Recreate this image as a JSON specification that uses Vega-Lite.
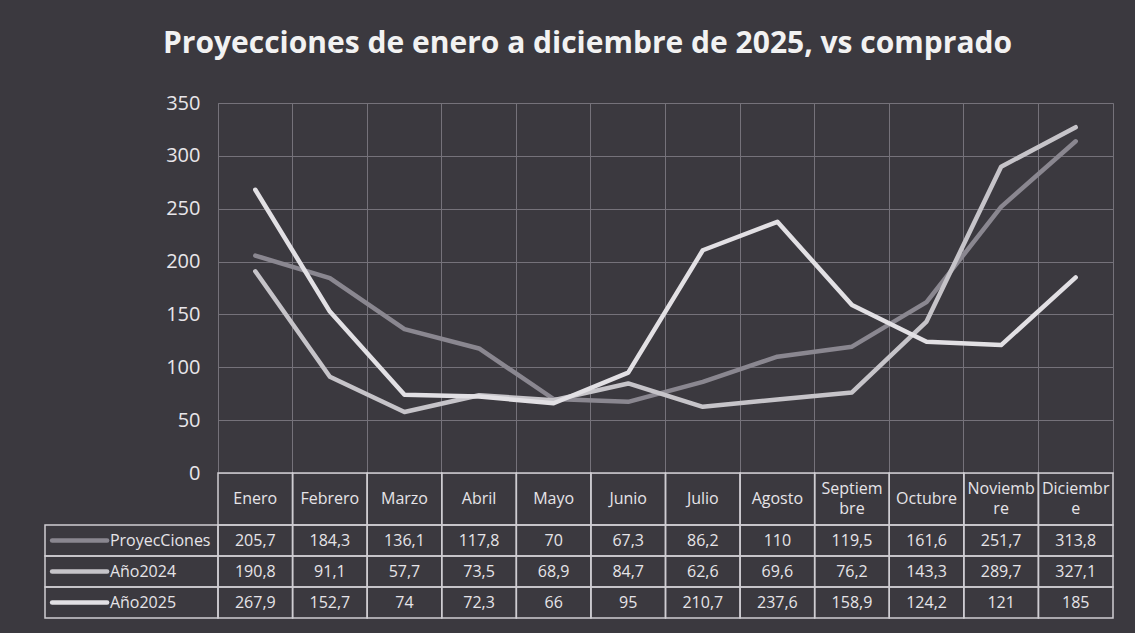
{
  "$schema": "https://vega.github.io/schema/vega-lite/v6.json",
  "width": 895,
  "height": 370,
  "autosize": {"type": "none"},
  "padding": {"left": 218, "top": 103, "right": 22, "bottom": 160},
  "background": "#3b393f",
  "title": {
    "text": "Proyecciones de enero a diciembre de 2025, vs comprado",
    "anchor": "middle",
    "dx": -78,
    "offset": 34,
    "fontSize": 30,
    "font": "Open Sans",
    "fontWeight": "bold",
    "color": "#f2f2f2"
  },
  "config": {
    "font": "Open Sans",
    "view": {"stroke": "#75727a", "strokeWidth": 1},
    "locale": {
      "number": {"decimal": ",", "thousands": ".", "grouping": [3], "currency": ["", " €"]}
    }
  },
  "data": {
    "values": [
      {"mes": "Enero", "serie": "ProyecCiones", "valor": 205.7},
      {"mes": "Febrero", "serie": "ProyecCiones", "valor": 184.3},
      {"mes": "Marzo", "serie": "ProyecCiones", "valor": 136.1},
      {"mes": "Abril", "serie": "ProyecCiones", "valor": 117.8},
      {"mes": "Mayo", "serie": "ProyecCiones", "valor": 70},
      {"mes": "Junio", "serie": "ProyecCiones", "valor": 67.3},
      {"mes": "Julio", "serie": "ProyecCiones", "valor": 86.2},
      {"mes": "Agosto", "serie": "ProyecCiones", "valor": 110},
      {"mes": "Septiembre", "serie": "ProyecCiones", "valor": 119.5},
      {"mes": "Octubre", "serie": "ProyecCiones", "valor": 161.6},
      {"mes": "Noviembre", "serie": "ProyecCiones", "valor": 251.7},
      {"mes": "Diciembre", "serie": "ProyecCiones", "valor": 313.8},
      {"mes": "Enero", "serie": "Año2024", "valor": 190.8},
      {"mes": "Febrero", "serie": "Año2024", "valor": 91.1},
      {"mes": "Marzo", "serie": "Año2024", "valor": 57.7},
      {"mes": "Abril", "serie": "Año2024", "valor": 73.5},
      {"mes": "Mayo", "serie": "Año2024", "valor": 68.9},
      {"mes": "Junio", "serie": "Año2024", "valor": 84.7},
      {"mes": "Julio", "serie": "Año2024", "valor": 62.6},
      {"mes": "Agosto", "serie": "Año2024", "valor": 69.6},
      {"mes": "Septiembre", "serie": "Año2024", "valor": 76.2},
      {"mes": "Octubre", "serie": "Año2024", "valor": 143.3},
      {"mes": "Noviembre", "serie": "Año2024", "valor": 289.7},
      {"mes": "Diciembre", "serie": "Año2024", "valor": 327.1},
      {"mes": "Enero", "serie": "Año2025", "valor": 267.9},
      {"mes": "Febrero", "serie": "Año2025", "valor": 152.7},
      {"mes": "Marzo", "serie": "Año2025", "valor": 74},
      {"mes": "Abril", "serie": "Año2025", "valor": 72.3},
      {"mes": "Mayo", "serie": "Año2025", "valor": 66},
      {"mes": "Junio", "serie": "Año2025", "valor": 95},
      {"mes": "Julio", "serie": "Año2025", "valor": 210.7},
      {"mes": "Agosto", "serie": "Año2025", "valor": 237.6},
      {"mes": "Septiembre", "serie": "Año2025", "valor": 158.9},
      {"mes": "Octubre", "serie": "Año2025", "valor": 124.2},
      {"mes": "Noviembre", "serie": "Año2025", "valor": 121},
      {"mes": "Diciembre", "serie": "Año2025", "valor": 185}
    ]
  },
  "resolve": {
    "scale": {"x": "independent", "y": "independent"},
    "axis": {"x": "independent", "y": "independent"}
  },
  "layer": [
    {
      "mark": {"type": "line", "strokeWidth": 4.5, "strokeCap": "round", "strokeJoin": "round"},
      "encoding": {
        "x": {
          "field": "mes", "type": "ordinal",
          "sort": ["Enero","Febrero","Marzo","Abril","Mayo","Junio","Julio","Agosto","Septiembre","Octubre","Noviembre","Diciembre"],
          "bandPosition": 0.5,
          "scale": {"type": "band", "paddingInner": 0, "paddingOuter": 0},
          "axis": {"bandPosition": 0, "grid": true, "gridColor": "#75727a", "gridWidth": 1, "labels": false, "ticks": false, "domain": false, "title": null}
        },
        "y": {
          "field": "valor", "type": "quantitative",
          "scale": {"domain": [0, 350]},
          "axis": {"values": [0,50,100,150,200,250,300,350], "grid": true, "gridColor": "#75727a", "gridWidth": 1, "ticks": false, "domain": false, "title": null, "labelFontSize": 20, "labelColor": "#e8e6ea", "labelPadding": 18, "labelFont": "Open Sans"}
        },
        "color": {
          "field": "serie", "type": "nominal",
          "scale": {"domain": ["ProyecCiones", "Año2024", "Año2025"], "range": ["#8a8790", "#c6c4c9", "#e2e0e4"]},
          "legend": null
        }
      }
    },
    {
      "transform": [{"filter": "datum.serie === 'ProyecCiones'"}],
      "mark": {"type": "rect", "fillOpacity": 0, "stroke": "#cfcdd2", "strokeWidth": 1.5},
      "encoding": {
        "x": {
          "field": "mes", "type": "ordinal",
          "sort": ["Enero","Febrero","Marzo","Abril","Mayo","Junio","Julio","Agosto","Septiembre","Octubre","Noviembre","Diciembre"],
          "scale": {"type": "band", "paddingInner": 0, "paddingOuter": 0},
          "axis": null
        },
        "y": {"datum": "encabezado", "type": "nominal", "scale": {"type": "band", "domain": ["encabezado"], "range": [370, 422], "paddingInner": 0, "paddingOuter": 0}, "axis": null}
      }
    },
    {
      "transform": [
        {"filter": "datum.serie === 'ProyecCiones' && datum.mes !== 'Septiembre' && datum.mes !== 'Noviembre' && datum.mes !== 'Diciembre'"}
      ],
      "mark": {"type": "text", "fontSize": 16, "color": "#e6e4e8", "baseline": "middle", "align": "center"},
      "encoding": {
        "x": {
          "field": "mes", "type": "ordinal",
          "sort": ["Enero","Febrero","Marzo","Abril","Mayo","Junio","Julio","Agosto","Septiembre","Octubre","Noviembre","Diciembre"],
          "bandPosition": 0.5,
          "scale": {"type": "band", "domain": ["Enero","Febrero","Marzo","Abril","Mayo","Junio","Julio","Agosto","Septiembre","Octubre","Noviembre","Diciembre"], "paddingInner": 0, "paddingOuter": 0},
          "axis": null
        },
        "y": {"datum": "encabezado", "type": "nominal", "bandPosition": 0.5, "scale": {"type": "band", "domain": ["encabezado"], "range": [370, 422], "paddingInner": 0, "paddingOuter": 0}, "axis": null},
        "text": {"field": "mes", "type": "nominal"}
      }
    },
    {
      "transform": [
        {"filter": "datum.serie === 'ProyecCiones' && (datum.mes === 'Septiembre' || datum.mes === 'Noviembre' || datum.mes === 'Diciembre')"},
        {"calculate": "datum.mes === 'Septiembre' ? 'Septiem|bre' : datum.mes === 'Noviembre' ? 'Noviemb|re' : 'Diciembr|e'", "as": "etiqueta"}
      ],
      "mark": {"type": "text", "lineBreak": "|", "lineHeight": 20, "fontSize": 16, "color": "#e6e4e8", "baseline": "middle", "align": "center", "dy": -10},
      "encoding": {
        "x": {
          "field": "mes", "type": "ordinal",
          "sort": ["Enero","Febrero","Marzo","Abril","Mayo","Junio","Julio","Agosto","Septiembre","Octubre","Noviembre","Diciembre"],
          "bandPosition": 0.5,
          "scale": {"type": "band", "domain": ["Enero","Febrero","Marzo","Abril","Mayo","Junio","Julio","Agosto","Septiembre","Octubre","Noviembre","Diciembre"], "paddingInner": 0, "paddingOuter": 0},
          "axis": null
        },
        "y": {"datum": "encabezado", "type": "nominal", "bandPosition": 0.5, "scale": {"type": "band", "domain": ["encabezado"], "range": [370, 422], "paddingInner": 0, "paddingOuter": 0}, "axis": null},
        "text": {"field": "etiqueta", "type": "nominal"}
      }
    },
    {
      "mark": {"type": "rect", "fillOpacity": 0, "stroke": "#cfcdd2", "strokeWidth": 1.5},
      "encoding": {
        "x": {
          "field": "mes", "type": "ordinal",
          "sort": ["Enero","Febrero","Marzo","Abril","Mayo","Junio","Julio","Agosto","Septiembre","Octubre","Noviembre","Diciembre"],
          "scale": {"type": "band", "paddingInner": 0, "paddingOuter": 0},
          "axis": null
        },
        "y": {"field": "serie", "type": "nominal", "scale": {"type": "band", "domain": ["ProyecCiones", "Año2024", "Año2025"], "range": [422, 515], "paddingInner": 0, "paddingOuter": 0}, "axis": null}
      }
    },
    {
      "mark": {"type": "text", "fontSize": 16, "color": "#e6e4e8", "baseline": "middle", "align": "center"},
      "encoding": {
        "x": {
          "field": "mes", "type": "ordinal",
          "sort": ["Enero","Febrero","Marzo","Abril","Mayo","Junio","Julio","Agosto","Septiembre","Octubre","Noviembre","Diciembre"],
          "bandPosition": 0.5,
          "scale": {"type": "band", "paddingInner": 0, "paddingOuter": 0},
          "axis": null
        },
        "y": {"field": "serie", "type": "nominal", "bandPosition": 0.5, "scale": {"type": "band", "domain": ["ProyecCiones", "Año2024", "Año2025"], "range": [422, 515], "paddingInner": 0, "paddingOuter": 0}, "axis": null},
        "text": {"field": "valor", "type": "quantitative", "format": ".1~f"}
      }
    },
    {
      "transform": [{"filter": "datum.mes === 'Enero'"}],
      "mark": {"type": "rect", "fillOpacity": 0, "stroke": "#cfcdd2", "strokeWidth": 1.5},
      "encoding": {
        "x": {"datum": "leyenda", "type": "nominal", "scale": {"type": "band", "domain": ["leyenda"], "range": [-173, 0], "paddingInner": 0, "paddingOuter": 0}, "axis": null},
        "y": {"field": "serie", "type": "nominal", "scale": {"type": "band", "domain": ["ProyecCiones", "Año2024", "Año2025"], "range": [422, 515], "paddingInner": 0, "paddingOuter": 0}, "axis": null}
      }
    },
    {
      "transform": [{"filter": "datum.mes === 'Enero'"}],
      "mark": {"type": "text", "fontSize": 16, "color": "#e6e4e8", "baseline": "middle", "align": "left"},
      "encoding": {
        "x": {"datum": "leyenda", "type": "nominal", "bandPosition": 0.375, "scale": {"type": "band", "domain": ["leyenda"], "range": [-173, 0], "paddingInner": 0, "paddingOuter": 0}, "axis": null},
        "y": {"field": "serie", "type": "nominal", "bandPosition": 0.5, "scale": {"type": "band", "domain": ["ProyecCiones", "Año2024", "Año2025"], "range": [422, 515], "paddingInner": 0, "paddingOuter": 0}, "axis": null},
        "text": {"field": "serie", "type": "nominal"}
      }
    },
    {
      "transform": [{"filter": "datum.mes === 'Enero'"}],
      "mark": {"type": "point", "shape": "M-1,0L1,0", "size": 3025, "filled": false, "strokeWidth": 4.5, "strokeCap": "round", "opacity": 1},
      "encoding": {
        "x": {"datum": "leyenda", "type": "nominal", "bandPosition": 0.2, "scale": {"type": "band", "domain": ["leyenda"], "range": [-173, 0], "paddingInner": 0, "paddingOuter": 0}, "axis": null},
        "y": {"field": "serie", "type": "nominal", "bandPosition": 0.5, "scale": {"type": "band", "domain": ["ProyecCiones", "Año2024", "Año2025"], "range": [422, 515], "paddingInner": 0, "paddingOuter": 0}, "axis": null},
        "color": {"field": "serie", "type": "nominal", "legend": null}
      }
    }
  ]
}
